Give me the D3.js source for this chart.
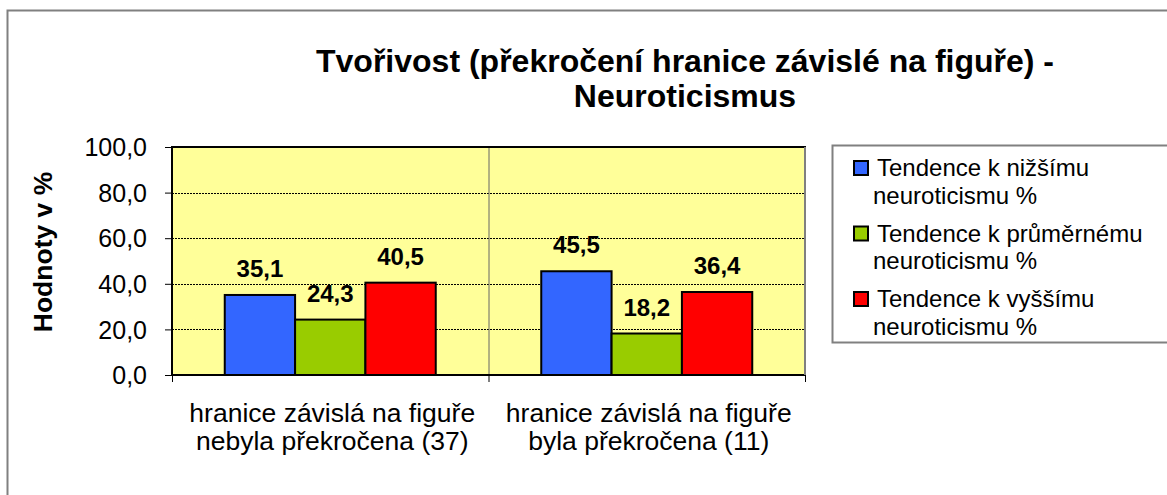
<!DOCTYPE html>
<html><head><meta charset="utf-8">
<script src="https://cdn.jsdelivr.net/npm/d3@7"></script>
<style>
html,body{margin:0;padding:0;background:#fff;}
svg{display:block;font-family:"Liberation Sans",Arial,sans-serif;}
</style></head>
<body>
<svg id="chart" width="1167" height="495"></svg>
<script>
const titleLines = ["Tvořivost (překročení hranice závislé na figuře) -", "Neuroticismus"];
const yAxisTitle = "Hodnoty v %";
const categories = [
  ["hranice závislá na figuře", "nebyla překročena (37)"],
  ["hranice závislá na figuře", "byla překročena (11)"]
];
const seriesNames = [
  ["Tendence k nižšímu", "neuroticismu %"],
  ["Tendence k průměrnému", "neuroticismu %"],
  ["Tendence k vyššímu", "neuroticismu %"]
];
const seriesColors = ["#3366FF", "#99CC00", "#FF0000"];
const valuesLow = [35.1, 45.5];
const valuesAvg = [24.3, 18.2];
const valuesHigh = [40.5, 36.4];
const yTicks = [0, 20, 40, 60, 80, 100];

const series = [valuesLow, valuesAvg, valuesHigh];
const fmt = v => d3.format(".1f")(v).replace(".", ",");

const svg = d3.select("#chart");
const plot = {left: 172, right: 805, top: 147, bottom: 375};

// outer border
svg.append("rect").attr("x", 7.5).attr("y", 10.5).attr("width", 1175).attr("height", 500)
  .attr("fill", "none").attr("stroke", "#808080").attr("stroke-width", 2);

const x0 = d3.scaleBand().domain(d3.range(categories.length)).range([plot.left, plot.right]);
const x1 = d3.scaleBand().domain(d3.range(series.length)).range([0, x0.bandwidth()]).paddingOuter(0.75).paddingInner(0);
const y = d3.scaleLinear().domain([0, 100]).range([plot.bottom, plot.top]);

// plot background
svg.append("rect").attr("x", plot.left).attr("y", plot.top)
  .attr("width", plot.right - plot.left).attr("height", plot.bottom - plot.top)
  .attr("fill", "#FFFF99");

// gridlines
svg.append("g").selectAll("line").data(yTicks.filter(t => t > 0 && t < 100)).join("line")
  .attr("x1", plot.left).attr("x2", plot.right)
  .attr("y1", d => Math.round(y(d)) + 0.5).attr("y2", d => Math.round(y(d)) + 0.5)
  .attr("stroke", "#000").attr("stroke-width", 1).attr("stroke-dasharray", "2,1");

// vertical category separators
svg.append("g").selectAll("line").data(d3.range(1, categories.length)).join("line")
  .attr("x1", d => x0(d) + 0.5).attr("x2", d => x0(d) + 0.5)
  .attr("y1", plot.top).attr("y2", plot.bottom)
  .attr("stroke", "#666").attr("stroke-width", 1);

// plot border
svg.append("rect").attr("x", plot.left).attr("y", plot.top)
  .attr("width", plot.right - plot.left).attr("height", plot.bottom - plot.top)
  .attr("fill", "none").attr("stroke", "#000").attr("stroke-width", 2);
svg.append("line").attr("x1", plot.right).attr("x2", plot.right).attr("y1", plot.top).attr("y2", plot.bottom)
  .attr("stroke", "#808080").attr("stroke-width", 2);

// bars
categories.forEach((c, ci) => {
  series.forEach((s, si) => {
    const bx = x0(ci) + x1(si);
    svg.append("rect").attr("x", bx).attr("y", y(s[ci]))
      .attr("width", x1.bandwidth()).attr("height", y(0) - y(s[ci]))
      .attr("fill", seriesColors[si]).attr("stroke", "#000").attr("stroke-width", 2);
  });
});
// data labels
categories.forEach((c, ci) => {
  series.forEach((s, si) => {
    svg.append("text").attr("x", x0(ci) + x1(si) + x1.bandwidth() / 2).attr("y", y(s[ci]) - 18)
      .attr("text-anchor", "middle").attr("font-size", 24).attr("font-weight", "bold")
      .text(fmt(s[ci]));
  });
});

// y axis
const yAxis = d3.axisLeft(y).tickValues(yTicks).tickSize(7).tickPadding(18).tickFormat(fmt);
const gy = svg.append("g").attr("transform", `translate(${plot.left},0)`).call(yAxis);
gy.select(".domain").remove();
gy.selectAll(".tick line").attr("stroke", "#000").attr("stroke-width", 1);
gy.selectAll(".tick text").attr("font-size", 25).attr("font-family", "Liberation Sans, Arial, sans-serif")
  .attr("fill", "#000").attr("dy", "0.35em");

// x axis ticks
svg.append("g").selectAll("line").data(d3.range(categories.length + 1)).join("line")
  .attr("x1", d => (d < categories.length ? x0(d) : plot.right) + 0.5)
  .attr("x2", d => (d < categories.length ? x0(d) : plot.right) + 0.5)
  .attr("y1", plot.bottom).attr("y2", plot.bottom + 7)
  .attr("stroke", "#000").attr("stroke-width", 1);

// category labels
categories.forEach((c, ci) => {
  const t = svg.append("text").attr("text-anchor", "middle").attr("font-size", 26.5);
  c.forEach((line, li) => {
    t.append("tspan").attr("x", x0(ci) + x0.bandwidth() / 2 + 2).attr("y", 422 + li * 28).text(line);
  });
});

// y axis title
svg.append("text").attr("transform", "translate(52,252) rotate(-90)")
  .attr("text-anchor", "middle").attr("font-size", 26.5).attr("font-weight", "bold").text(yAxisTitle);

// title
titleLines.forEach((line, i) => {
  svg.append("text").attr("x", 685).attr("y", 72 + i * 35).attr("text-anchor", "middle")
    .attr("font-size", 32).attr("font-weight", "bold").text(line);
});

// legend
const lg = svg.append("g");
lg.append("rect").attr("x", 832.5).attr("y", 145.5).attr("width", 345).attr("height", 197)
  .attr("fill", "#fff").attr("stroke", "#808080").attr("stroke-width", 2);
seriesNames.forEach((name, i) => {
  const by = 176 + i * 65.5;
  lg.append("rect").attr("x", 854).attr("y", by - 15).attr("width", 14).attr("height", 14)
    .attr("fill", seriesColors[i]).attr("stroke", "#000").attr("stroke-width", 2);
  const t = lg.append("text").attr("font-size", 24);
  name.forEach((line, li) => {
    t.append("tspan").attr("x", li === 0 ? 877 : 873).attr("y", by + li * 27.5).text(line);
  });
});
</script>
</body></html>
